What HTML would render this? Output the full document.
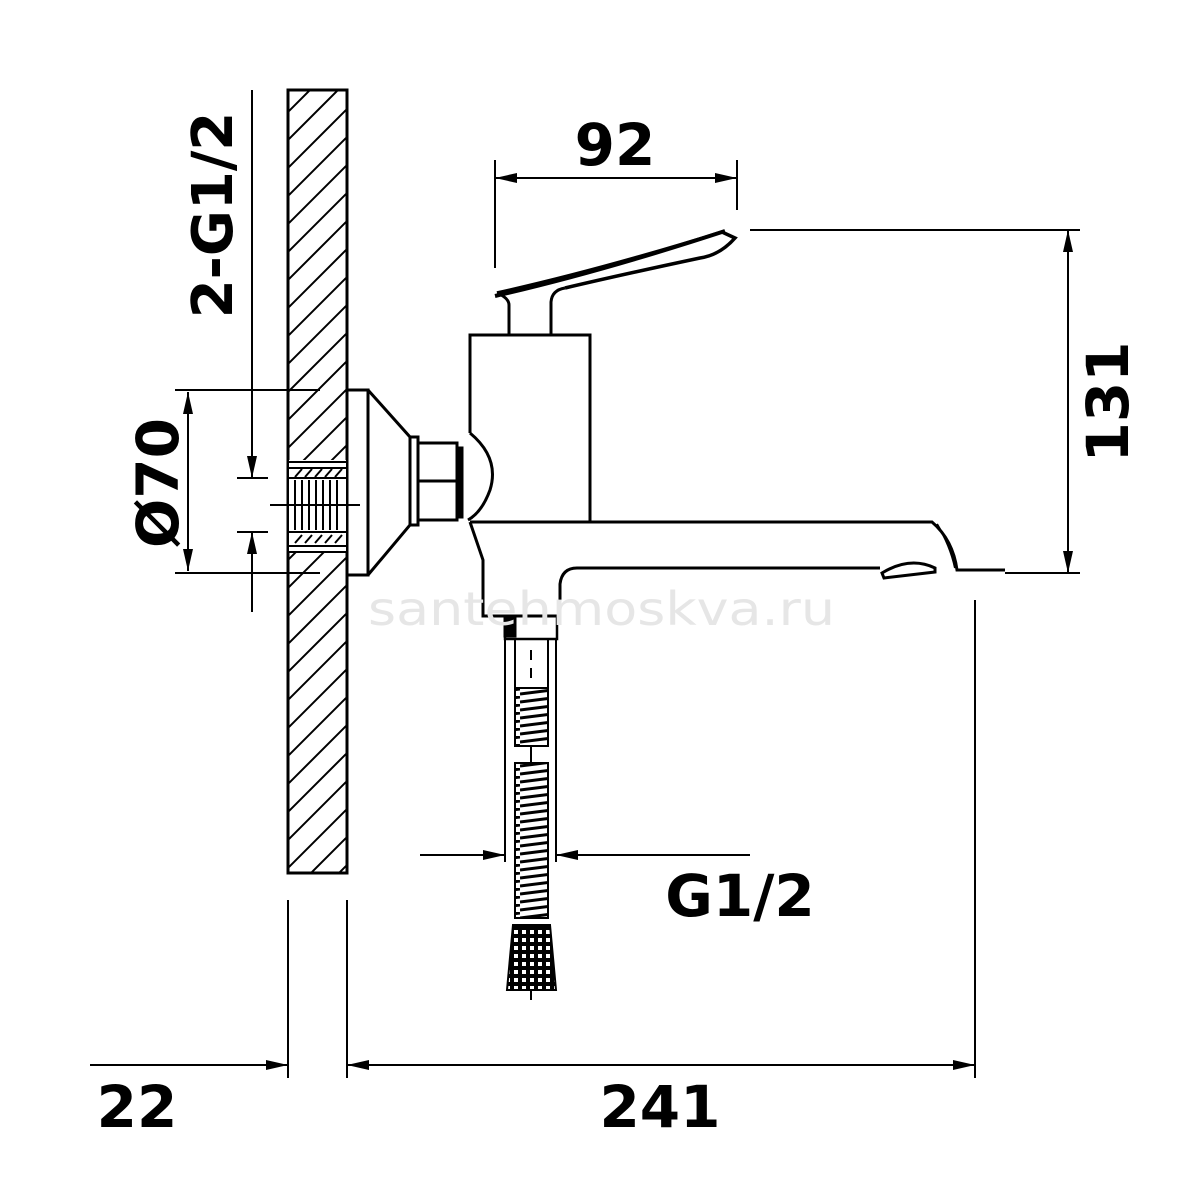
<!DOCTYPE html>
<html><head><meta charset="utf-8"><style>
html,body{margin:0;padding:0;background:#fff;}
svg{display:block;}
text{font-family:"DejaVu Sans","Liberation Sans",sans-serif;font-weight:bold;fill:#000;}
</style></head><body>
<svg width="1200" height="1200" viewBox="0 0 1200 1200" xmlns="http://www.w3.org/2000/svg">
<defs>
<clipPath id="wallc"><rect x="288" y="90" width="59" height="783"/></clipPath>
<marker id="a" viewBox="0 0 22 12" refX="22" refY="6" markerWidth="22" markerHeight="12" markerUnits="userSpaceOnUse" orient="auto-start-reverse"><path d="M0,1 L22,6 L0,11z" fill="#000"/></marker>
<pattern id="mesh" width="8" height="8" patternUnits="userSpaceOnUse"><rect width="8" height="8" fill="#000"/><rect x="2" y="2" width="4" height="4" fill="#fff"/></pattern>
<pattern id="coil" width="40" height="8" patternUnits="userSpaceOnUse"><rect width="40" height="8" fill="#fff"/><path d="M0,6 L40,1" stroke="#000" stroke-width="3"/></pattern>
</defs>
<g fill="none" stroke="#000" stroke-width="3">
<rect x="288" y="90" width="59" height="783"/>
<g clip-path="url(#wallc)" stroke-width="2">
<path d="M270,130 L360,40 M270,158 L360,68 M270,186 L360,96 M270,214 L360,124 M270,242 L360,152 M270,270 L360,180 M270,298 L360,208 M270,326 L360,236 M270,354 L360,264 M270,382 L360,292 M270,410 L360,320 M270,438 L360,348 M270,466 L360,376 M270,494 L360,404 M270,522 L360,432 M270,550 L360,460 M270,578 L360,488 M270,606 L360,516 M270,634 L360,544 M270,662 L360,572 M270,690 L360,600 M270,718 L360,628 M270,746 L360,656 M270,774 L360,684 M270,802 L360,712 M270,830 L360,740 M270,858 L360,768 M270,886 L360,796 M270,914 L360,824 M270,942 L360,852"/>
</g>
<rect x="289" y="460" width="57" height="92" fill="#fff" stroke="none"/>
<path d="M289,462 H346 M289,468 H346 M289,546 H346 M289,552 H346" stroke-width="2"/>
<path d="M289,478 H346 M289,532 H346" stroke-width="2"/>
<path d="M295,480 V530 M302,480 V530 M309,480 V530 M316,480 V530 M323,480 V530 M330,480 V530 M337,480 V530" stroke-width="2"/>
<path d="M295,477 L302,469 M305,477 L312,469 M315,477 L322,469 M325,477 L332,469 M335,477 L342,469 M295,543 L302,535 M305,543 L312,535 M315,543 L322,535 M325,543 L332,535 M335,543 L342,535" stroke-width="2"/>
<path d="M347,390 H368 V575 H347"/>
<path d="M368,390 L410,437 V525 L368,575"/>
<rect x="410" y="437" width="8" height="88"/>
<rect x="418" y="443" width="39" height="77"/>
<path d="M418,481 H457"/>
<rect x="457" y="448" width="5" height="69" fill="#000"/>
<path d="M470,433 V335 H590 V522"/>
<path d="M470,433 Q500,458 490,490 Q482,512 468,520" />
<path d="M509,335 V305 Q509,298 497,293 M551,335 V302 Q552,290 565,288"/>
<path d="M497,293 Q600,270 722,232 L735,238 Q720,255 700,258 Q620,275 565,288" stroke-width="3.5"/>
<path d="M495,296 Q600,272 725,231" stroke-width="4"/>
<path d="M470,522 H932 Q953,540 957,570 H1005"/>
<path d="M937,524 Q950,545 955,568" stroke-width="2"/>
<path d="M470,522 L483,560 V616 H560 V584 Q562,568 577,568 H880"/>
<path d="M882,573 Q910,556 935,568 L935,572 L884,578 Z"/>
<rect x="505" y="616" width="52" height="23" stroke-width="2.5"/>
<rect x="505" y="616" width="10" height="20" fill="#000"/>
<path d="M515,638 V688 H548 V638" stroke-width="2"/>
<path d="M531,650 V660 M531,668 V678" stroke-width="2"/>
<rect x="515" y="688" width="33" height="58" fill="url(#coil)" stroke-width="2"/>
<path d="M531,746 V763" stroke-width="2"/>
<rect x="515" y="763" width="33" height="155" fill="url(#coil)" stroke-width="2"/>
<path d="M513,925 H550 L556,990 H507 Z" fill="url(#mesh)" stroke-width="2"/>
<path d="M531,990 V1000" stroke-width="2"/>
<path d="M505,640 V862 M556,640 V862" stroke-width="2"/>
<path d="M420,855 H505" marker-end="url(#a)" stroke-width="2"/>
<path d="M750,855 H556" marker-end="url(#a)" stroke-width="2"/>
<path d="M252,90 V478" marker-end="url(#a)" stroke-width="2"/>
<path d="M252,612 V532" marker-end="url(#a)" stroke-width="2"/>
<path d="M237,478 H268 M237,532 H268 M270,505 H360" stroke-width="2"/>
<path d="M175,390 H320 M175,573 H320" stroke-width="2"/>
<path d="M188,392 V571" marker-start="url(#a)" marker-end="url(#a)" stroke-width="2"/>
<path d="M495,160 V268 M737,160 V210" stroke-width="2"/>
<path d="M495,178 H737" marker-start="url(#a)" marker-end="url(#a)" stroke-width="2"/>
<path d="M750,230 H1080 M1005,573 H1080" stroke-width="2"/>
<path d="M1068,230 V573" marker-start="url(#a)" marker-end="url(#a)" stroke-width="2"/>
<path d="M288,900 V1078 M347,900 V1078 M975,600 V1078" stroke-width="2"/>
<path d="M90,1065 H288" marker-end="url(#a)" stroke-width="2"/>
<path d="M347,1065 H975" marker-start="url(#a)" marker-end="url(#a)" stroke-width="2"/>
</g>
<text x="368" y="625" font-size="46" textLength="467" lengthAdjust="spacingAndGlyphs" style="font-weight:normal;fill:#e6e6e6">santehmoskva.ru</text>
<text x="615" y="165" font-size="58" text-anchor="middle">92</text>
<text x="740" y="916" font-size="58" text-anchor="middle">G1/2</text>
<text x="137" y="1127" font-size="58" text-anchor="middle">22</text>
<text x="660" y="1127" font-size="58" text-anchor="middle">241</text>
<text transform="translate(1128,402) rotate(-90)" font-size="58" text-anchor="middle">131</text>
<text transform="translate(178,483) rotate(-90)" font-size="58" text-anchor="middle">Ø70</text>
<text transform="translate(232,215) rotate(-90)" font-size="56" text-anchor="middle">2-G1/2</text>
</svg>
</body></html>
